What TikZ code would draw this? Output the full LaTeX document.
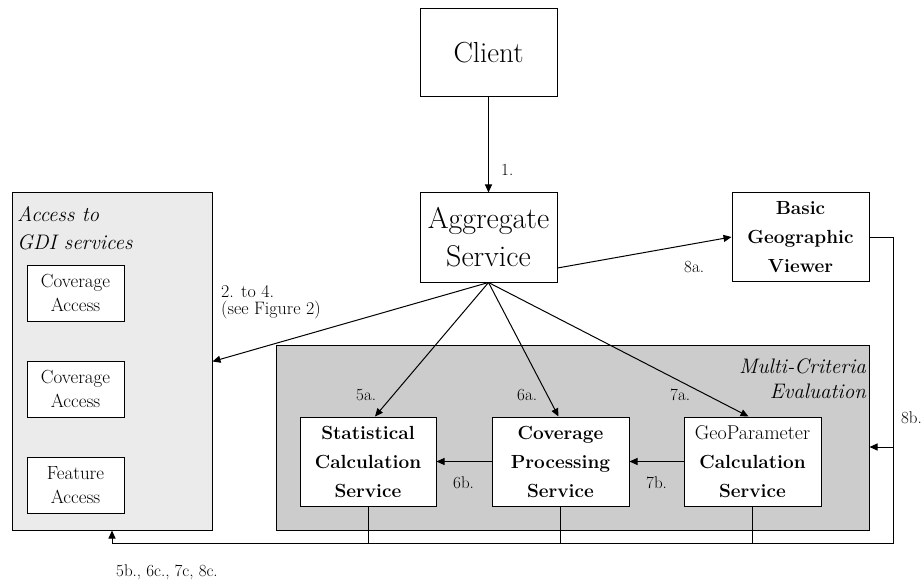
\documentclass[tikz,border=0pt]{standalone}
\usepackage{fontspec}
\usetikzlibrary{arrows.meta}
\definecolor{gdigray}{RGB}{235,235,235}
\definecolor{mcegray}{RGB}{204,204,204}
\begin{document}
\begin{tikzpicture}[x=1pt,y=-1pt,
  box/.style={draw, fill=white, line width=1pt, inner sep=0pt, align=center,
    minimum width=137pt, minimum height=89pt},
  svc/.style={box, font=\bfseries\fontsize{19}{29}\selectfont},
  access/.style={box, minimum width=97pt, minimum height=56pt,
    font=\fontsize{19}{24}\selectfont},
  group/.style={draw, line width=1pt, inner sep=0pt},
  grouptitle/.style={inner sep=0pt, font=\itshape\fontsize{21}{26}\selectfont},
  lbl/.style={inner sep=0pt, anchor=base west, font=\fontsize{17}{17}\selectfont},
  arr/.style={-{Triangle[length=8pt,width=7pt]}, line width=1pt},
  link/.style={line width=1pt}]
\useasboundingbox (0,0) rectangle (923,580);

% grouping panels
\node[group, fill=gdigray, minimum width=200pt, minimum height=337pt] (gdi) at (112,361.5) {};
\node[group, fill=mcegray, minimum width=593pt, minimum height=185pt] (mce) at (572.5,437.5) {};
\node[grouptitle, anchor=base west] (gdit1) at (17,221) {Access to};
\node[grouptitle, anchor=base west] (gdit2) at (17,249) {GDI services};
\node[grouptitle, anchor=base east] (mcet1) at (866,373) {Multi-Criteria};
\node[grouptitle, anchor=base east] (mcet2) at (866,398) {Evaluation};

% data access services
\node[access] (ca1) at (75.5,293) {Coverage\\Access};
\node[access] (ca2) at (75.5,389) {Coverage\\Access};
\node[access] (fa)  at (75.5,485) {Feature\\Access};

% client and aggregate service
\node[box, minimum height=88pt, font=\fontsize{29}{36}\selectfont] (client) at (488.5,53) {Client};
\node[box, font=\fontsize{30}{38}\selectfont] (agg) at (488.5,237.5) {Aggregate\\Service};
\node[svc, minimum height=88pt] (bgv) at (800.5,237) {Basic\\Geographic\\Viewer};

% processing services
\node[svc, minimum width=136pt] (stat) at (368,461.5) {Statistical\\Calculation\\Service};
\node[svc] (cps) at (560.5,461.5) {Coverage\\Processing\\Service};
\node[svc] (gps) at (752.5,461.5) {{\mdseries\fontsize{20}{29}\selectfont GeoParameter}\\Calculation\\Service};

% request flow
\draw[arr] (client) -- (agg);
\draw[arr] (agg.south) -- (gdi.east);
\draw[arr] (agg.south) -- ([xshift=7pt]stat.north);
\draw[arr] (agg.south) -- ([xshift=-2pt]cps.north);
\draw[arr] (agg.south) -- ([xshift=-4pt]gps.north);
\draw[arr] ([yshift=-30.5pt]agg.east) -- (bgv.west);
\draw[arr] (cps) -- (stat);
\draw[arr] (gps) -- (cps);

% return flow
\coordinate (corner) at (893,543);
\coordinate (tap) at (893,447);
\draw[arr] (bgv.east) -| (corner) -| (gdi.south);
\draw[arr] (tap) -- (tap -| mce.east);
\draw[link] (stat.south) -- (stat.south |- corner);
\draw[link] (cps.south) -- (cps.south |- corner);
\draw[link] (gps.south) -- (gps.south |- corner);

% step labels
\node[lbl] (l1) at (501,176) {1.};
\node[lbl, font=\fontsize{18}{18}\selectfont] (l2) at (221,297) {2. to 4.};
\node[lbl, font=\fontsize{18}{18}\selectfont] (l2b) at (221,314) {(see Figure 2)};
\node[lbl] (l5a) at (356,400) {5a.};
\node[lbl] (l6a) at (517,400) {6a.};
\node[lbl] (l7a) at (670,400) {7a.};
\node[lbl] (l6b) at (453,488) {6b.};
\node[lbl] (l7b) at (646,488) {7b.};
\node[lbl] (l8a) at (684,272) {8a.};
\node[lbl, anchor=base east] (l8b) at (922,423) {8b.};
\node[lbl] (lret) at (116,576) {5b., 6c., 7c, 8c.};
\end{tikzpicture}
\end{document}
